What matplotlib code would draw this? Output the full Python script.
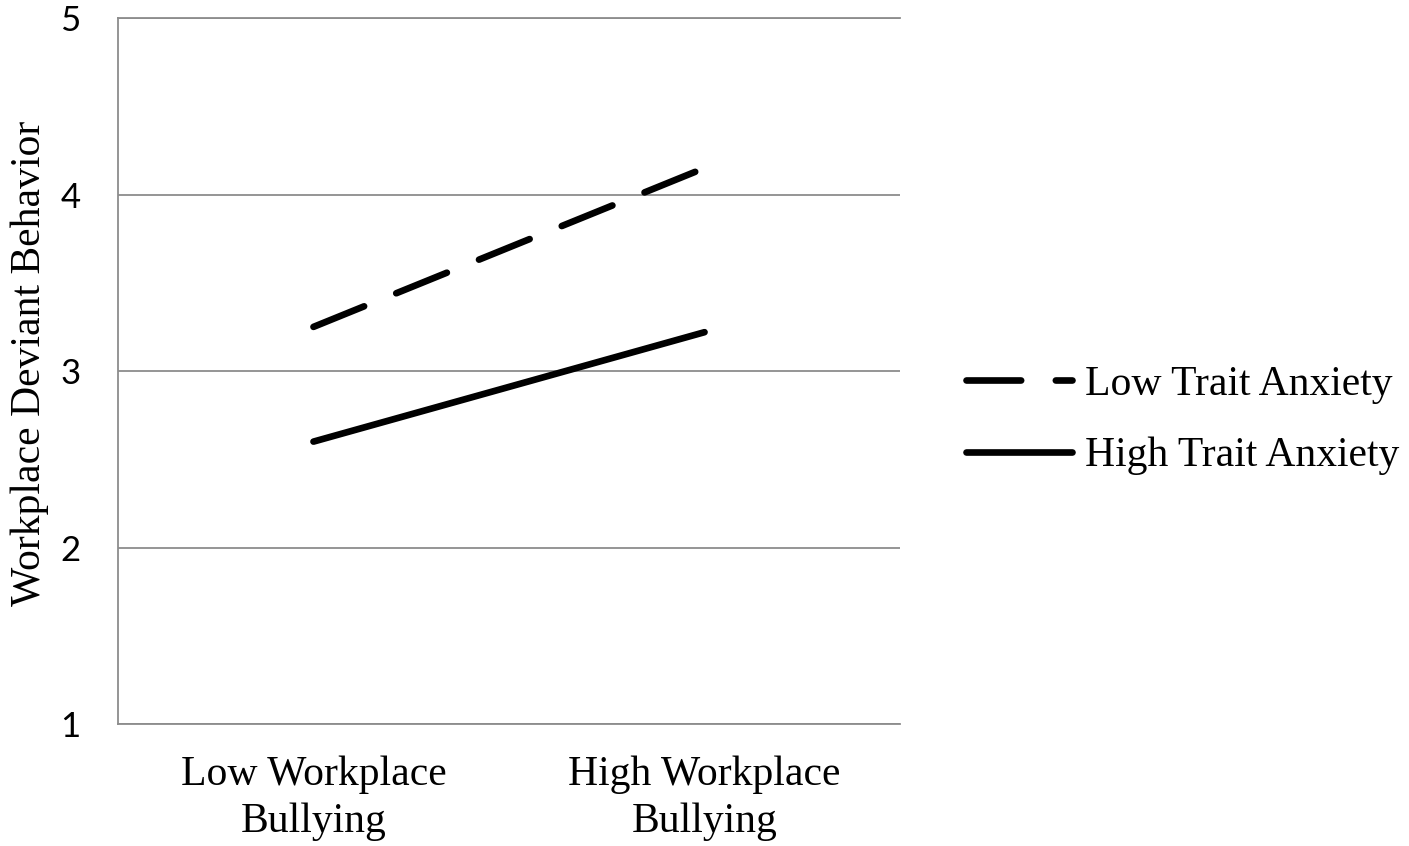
import matplotlib
matplotlib.use('Agg')
import matplotlib.pyplot as plt

categories = ['Low Workplace\nBullying', 'High Workplace\nBullying']
low_anxiety = [3.25, 4.15]
high_anxiety = [2.60, 3.22]
series_names = ['Low Trait Anxiety', 'High Trait Anxiety']
yticks = [1, 2, 3, 4, 5]

serif = 'Liberation Serif'
grid_col = '#8c8c8c'

fig = plt.figure(figsize=(14.09, 8.46), dpi=100)
ax = fig.add_axes([0.0837, 0.1442, 0.5551, 0.8345])

x = [0.5, 1.5]
ax.plot(x, low_anxiety, color='black', lw=4.8, dashes=(8.2, 5.2),
        dash_capstyle='round', solid_capstyle='round', label=series_names[0])
ax.plot(x, high_anxiety, color='black', lw=4.8, solid_capstyle='round',
        label=series_names[1])

ax.set_xlim(0, 2)
ax.set_ylim(1, 5)
ax.set_yticks(yticks)
ax.set_yticklabels([str(v) for v in yticks], fontfamily='Lato', fontsize=25)
ax.set_xticks(x)
ax.set_xticklabels(categories, fontfamily=serif, fontsize=30, linespacing=1.28)
ax.tick_params(length=0)
ax.tick_params(axis='y', pad=27)
ax.tick_params(axis='x', pad=23)

ax.grid(axis='y', color=grid_col, lw=1.3)
ax.set_axisbelow(True)
for s in ['top', 'right']:
    ax.spines[s].set_visible(False)
for s in ['left', 'bottom']:
    ax.spines[s].set_color(grid_col)
    ax.spines[s].set_linewidth(1.3)
# top gridline at 5
ax.axhline(5, color=grid_col, lw=1.3, clip_on=False)

ax.set_ylabel('Workplace Deviant Behavior', fontfamily=serif, fontsize=30)
ax.yaxis.set_label_coords(-0.088, 0.511)

ax.legend(loc='center left', bbox_to_anchor=(0.659, 0.503), bbox_transform=fig.transFigure,
          frameon=False, prop={'family': serif, 'size': 30}, handlelength=2.55,
          handletextpad=0.3, labelspacing=0.79)

plt.savefig('out.png', dpi=100)
